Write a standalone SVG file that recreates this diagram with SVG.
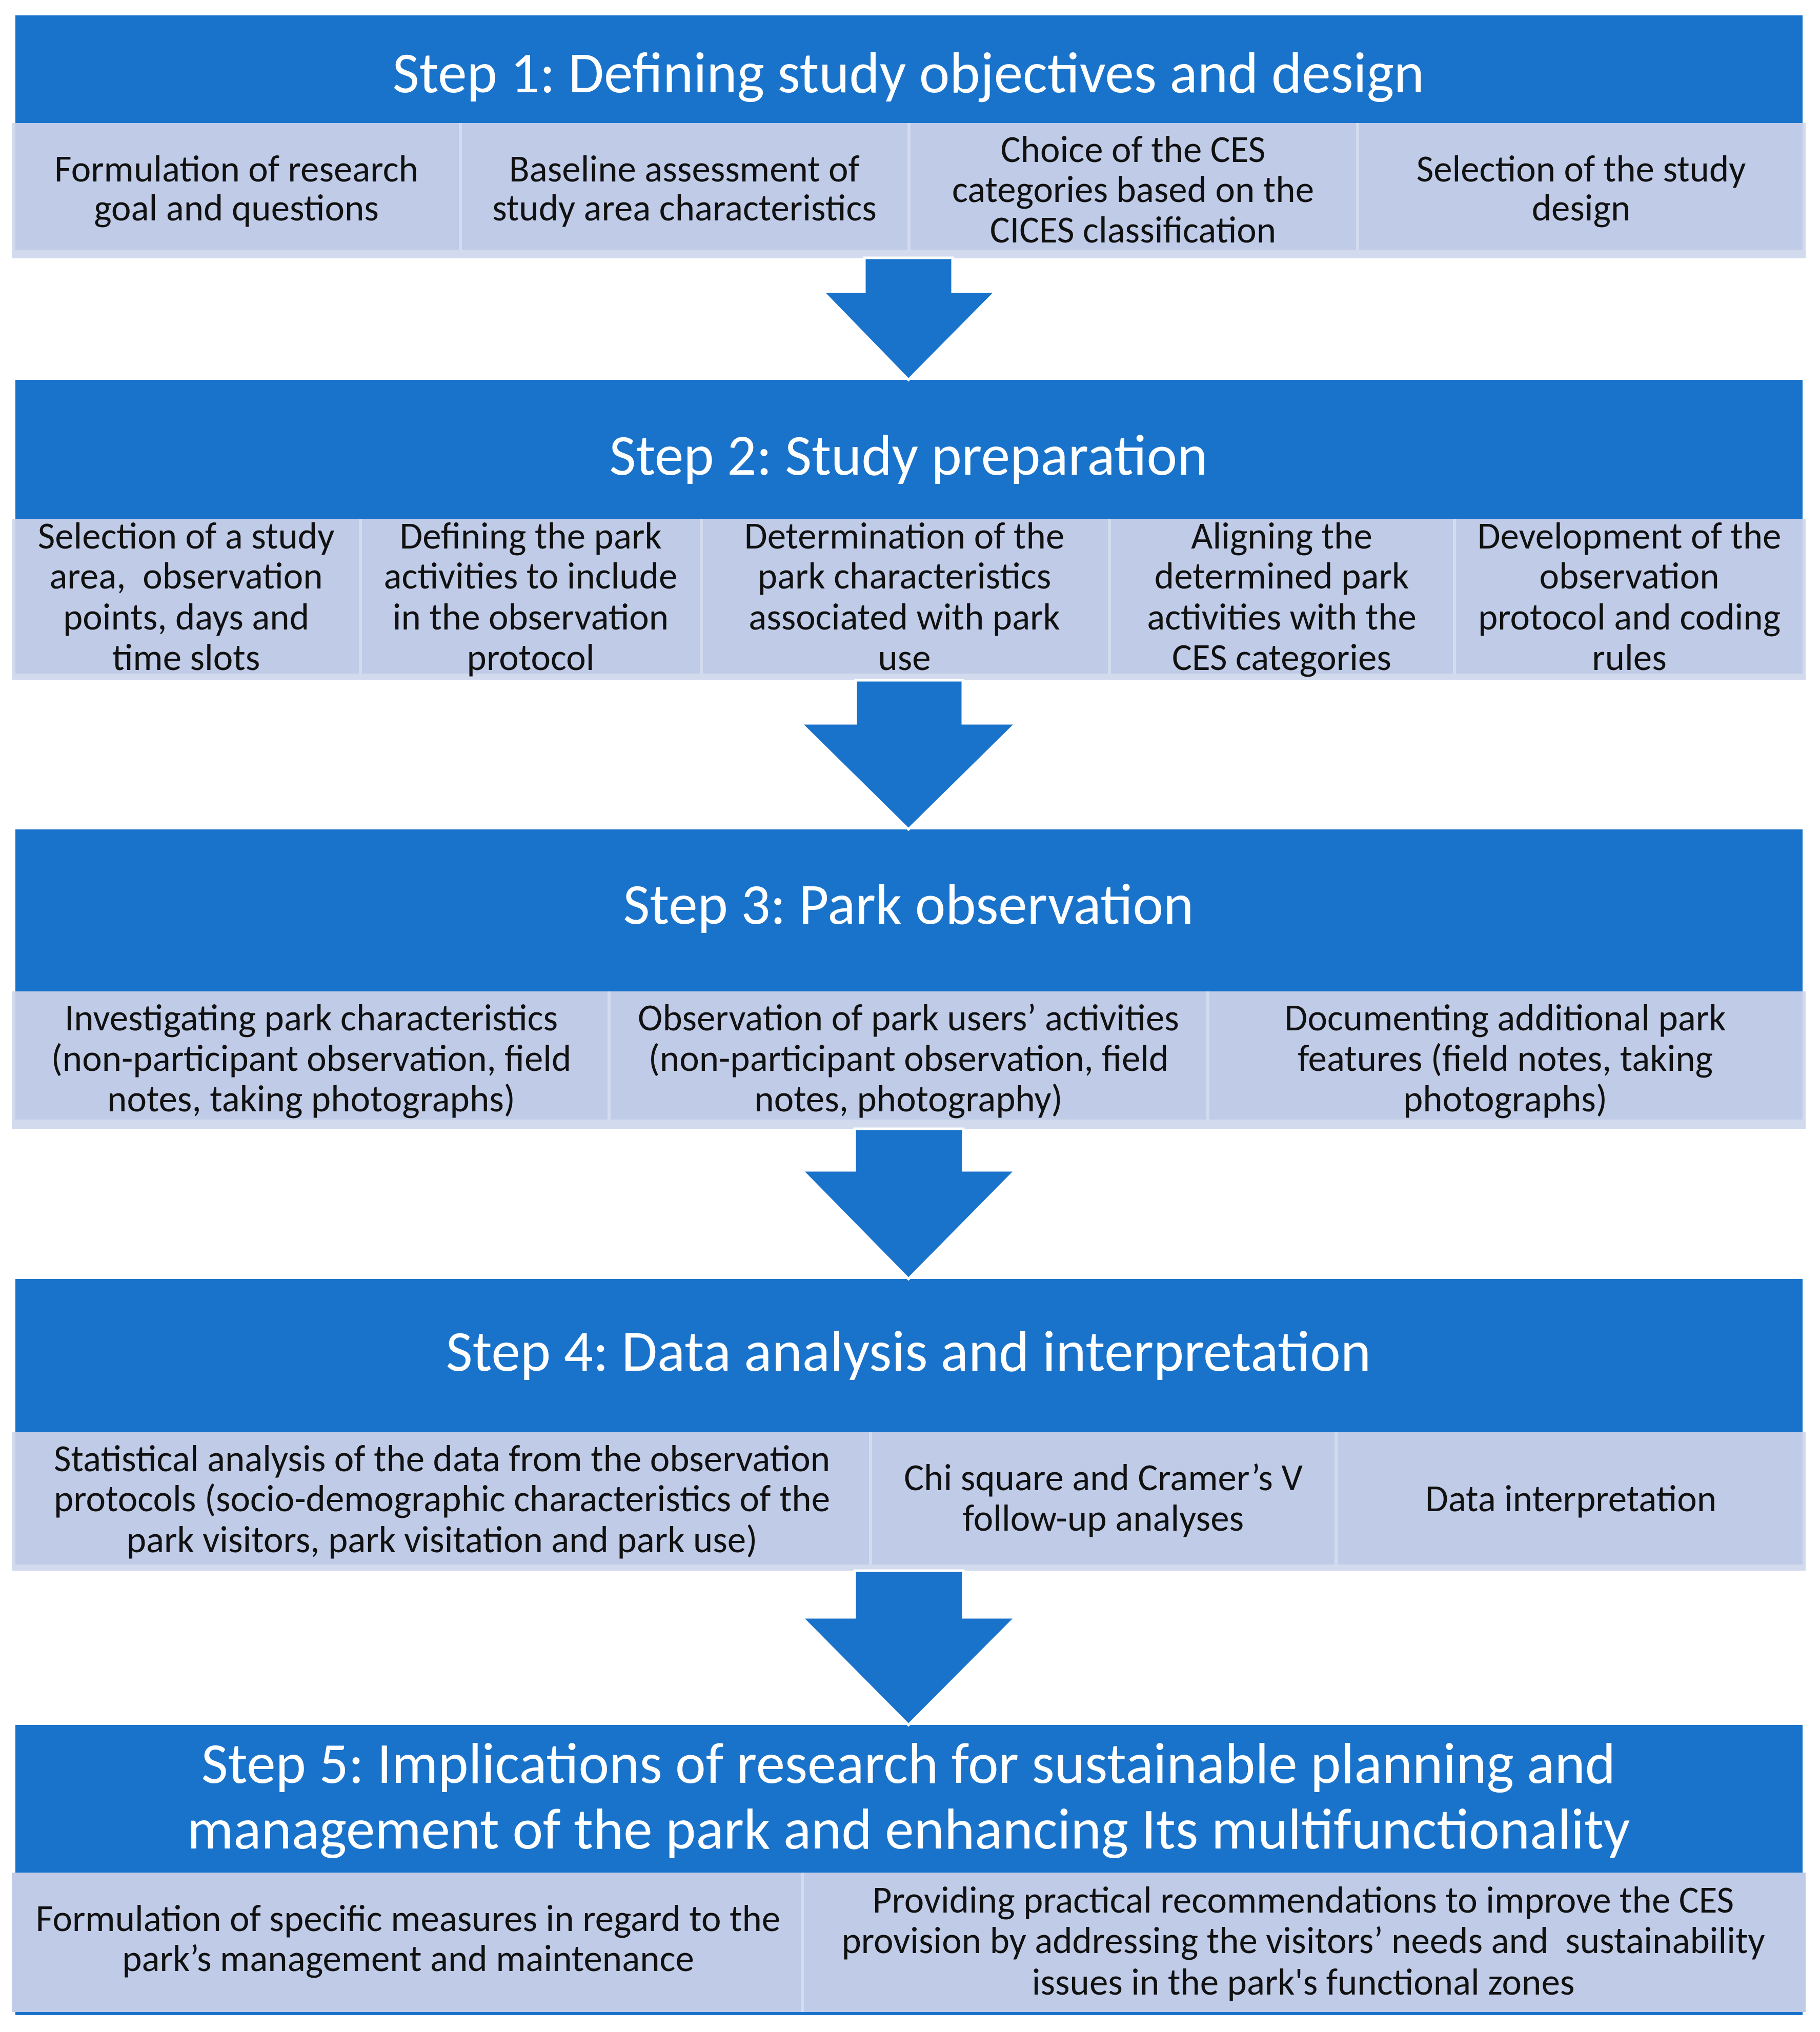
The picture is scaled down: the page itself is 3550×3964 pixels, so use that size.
<svg xmlns="http://www.w3.org/2000/svg" width="3550" height="3964" viewBox="0 0 3550 3964">
<style>
.hdr{fill:#1A73CB}
.rowbg{fill:#D2DAEE}
.cell{fill:#BFCBE7}
.div{stroke:#D3DBEF;stroke-width:6}
.ttl{font-family:Carlito,Lato,"Open Sans",sans-serif;font-size:113px;fill:#FFFFFF;text-anchor:middle}
.txt{font-family:Carlito,Lato,"Open Sans",sans-serif;font-size:73px;fill:#111111;text-anchor:middle}
.arr{fill:#1A73CB;stroke:#FFFFFF;stroke-width:5;stroke-linejoin:miter}
</style>
<rect width="3550" height="3964" fill="#FFFFFF"/>

<!-- Step 1 -->
<g id="step1">
  <rect class="hdr" x="30" y="30" width="3486" height="210"/>
  <text class="ttl" x="1772" y="180">Step 1: Defining study objectives and design</text>
  <rect class="rowbg" x="23" y="240" width="3499" height="264"/>
  <rect class="cell" x="30" y="240" width="3486" height="247"/>
  <line class="div" x1="898" y1="240" x2="898" y2="490"/>
  <line class="div" x1="1773" y1="240" x2="1773" y2="490"/>
  <line class="div" x1="2648" y1="240" x2="2648" y2="490"/>
</g>
<g id="step1-cell1"><text class="txt"><tspan x="461" y="354">Formulation of research</tspan><tspan x="461" y="430">goal and questions</tspan></text></g>
<g id="step1-cell2"><text class="txt"><tspan x="1335" y="354">Baseline assessment of</tspan><tspan x="1335" y="430">study area characteristics</tspan></text></g>
<g id="step1-cell3"><text class="txt"><tspan x="2210" y="316">Choice of the CES</tspan><tspan x="2210" y="394">categories based on the</tspan><tspan x="2210" y="473">CICES classification</tspan></text></g>
<g id="step1-cell4"><text class="txt"><tspan x="3084" y="354">Selection of the study</tspan><tspan x="3084" y="430">design</tspan></text></g>

<!-- Step 2 -->
<g id="step2">
  <rect class="hdr" x="30" y="741" width="3486" height="271"/>
  <text class="ttl" x="1772" y="926">Step 2: Study preparation</text>
  <rect class="rowbg" x="23" y="1012" width="3499" height="314"/>
  <rect class="cell" x="30" y="1012" width="3486" height="302"/>
  <line class="div" x1="703" y1="1012" x2="703" y2="1318"/>
  <line class="div" x1="1368" y1="1012" x2="1368" y2="1318"/>
  <line class="div" x1="2164" y1="1012" x2="2164" y2="1318"/>
  <line class="div" x1="2837" y1="1012" x2="2837" y2="1318"/>
</g>
<g id="step2-cell1"><text class="txt" xml:space="preserve"><tspan x="363" y="1070">Selection of a study</tspan><tspan x="363" y="1148">area,  observation</tspan><tspan x="363" y="1228">points, days and</tspan><tspan x="363" y="1307">time slots</tspan></text></g>
<g id="step2-cell2"><text class="txt"><tspan x="1035" y="1070">Defining the park</tspan><tspan x="1035" y="1148">activities to include</tspan><tspan x="1035" y="1228">in the observation</tspan><tspan x="1035" y="1307">protocol</tspan></text></g>
<g id="step2-cell3"><text class="txt"><tspan x="1764" y="1070">Determination of the</tspan><tspan x="1764" y="1148">park characteristics</tspan><tspan x="1764" y="1228">associated with park</tspan><tspan x="1764" y="1307">use</tspan></text></g>
<g id="step2-cell4"><text class="txt"><tspan x="2500" y="1070">Aligning the</tspan><tspan x="2500" y="1148">determined park</tspan><tspan x="2500" y="1228">activities with the</tspan><tspan x="2500" y="1307">CES categories</tspan></text></g>
<g id="step2-cell5"><text class="txt"><tspan x="3178" y="1070">Development of the</tspan><tspan x="3178" y="1148">observation</tspan><tspan x="3178" y="1228">protocol and coding</tspan><tspan x="3178" y="1307">rules</tspan></text></g>

<!-- Step 3 -->
<g id="step3">
  <rect class="hdr" x="30" y="1618" width="3486" height="316"/>
  <text class="ttl" x="1772" y="1802">Step 3: Park observation</text>
  <rect class="rowbg" x="23" y="1934" width="3499" height="268"/>
  <rect class="cell" x="30" y="1934" width="3486" height="250"/>
  <line class="div" x1="1188" y1="1934" x2="1188" y2="2190"/>
  <line class="div" x1="2356" y1="1934" x2="2356" y2="2190"/>
</g>
<g id="step3-cell1"><text class="txt"><tspan x="607" y="2010">Investigating park characteristics</tspan><tspan x="607" y="2089">(non-participant observation, field</tspan><tspan x="607" y="2168">notes, taking photographs)</tspan></text></g>
<g id="step3-cell2"><text class="txt"><tspan x="1772" y="2010">Observation of park users’ activities</tspan><tspan x="1772" y="2089">(non-participant observation, field</tspan><tspan x="1772" y="2168">notes, photography)</tspan></text></g>
<g id="step3-cell3"><text class="txt"><tspan x="2936" y="2010">Documenting additional park</tspan><tspan x="2936" y="2089">features (field notes, taking</tspan><tspan x="2936" y="2168">photographs)</tspan></text></g>

<!-- Step 4 -->
<g id="step4">
  <rect class="hdr" x="30" y="2495" width="3486" height="299"/>
  <text class="ttl" x="1772" y="2674">Step 4: Data analysis and interpretation</text>
  <rect class="rowbg" x="23" y="2794" width="3499" height="270"/>
  <rect class="cell" x="30" y="2794" width="3486" height="258"/>
  <line class="div" x1="1698" y1="2794" x2="1698" y2="3056"/>
  <line class="div" x1="2606" y1="2794" x2="2606" y2="3056"/>
</g>
<g id="step4-cell1"><text class="txt"><tspan x="862" y="2870">Statistical analysis of the data from the observation</tspan><tspan x="862" y="2948">protocols (socio-demographic characteristics of the</tspan><tspan x="862" y="3028">park visitors, park visitation and park use)</tspan></text></g>
<g id="step4-cell2"><text class="txt"><tspan x="2152" y="2907">Chi square and Cramer’s V</tspan><tspan x="2152" y="2986">follow-up analyses</tspan></text></g>
<g id="step4-cell3"><text class="txt"><tspan x="3064" y="2948">Data interpretation</tspan></text></g>

<!-- Step 5 -->
<g id="step5">
  <rect class="hdr" x="30" y="3365" width="3486" height="288"/>
  <text class="ttl"><tspan x="1772" y="3478">Step 5: Implications of research for sustainable planning and</tspan><tspan x="1772" y="3606">management of the park and enhancing Its multifunctionality</tspan></text>
  <rect class="cell" x="23" y="3653" width="3499" height="272"/>
  <line class="div" x1="1565" y1="3653" x2="1565" y2="3925"/>
  <rect class="hdr" x="30" y="3925" width="3486" height="6"/>
</g>
<g id="step5-cell1"><text class="txt"><tspan x="796" y="3767">Formulation of specific measures in regard to the</tspan><tspan x="796" y="3845">park’s management and maintenance</tspan></text></g>
<g id="step5-cell2"><text class="txt" xml:space="preserve"><tspan x="2542" y="3731">Providing practical recommendations to improve the CES</tspan><tspan x="2542" y="3810">provision by addressing the visitors’ needs and  sustainability</tspan><tspan x="2542" y="3891">issues in the park's functional zones</tspan></text></g>

<!-- Connectors -->
<g id="connectors">
  <polygon class="arr" points="1686,503 1858,503 1858,569 1942,569 1772,741 1605,569 1686,569"/>
  <polygon class="arr" points="1669,1327 1878,1327 1878,1411 1982,1411 1772,1618 1562,1411 1669,1411"/>
  <polygon class="arr" points="1667,2202 1879,2202 1879,2283 1981,2283 1772,2495 1564,2283 1667,2283"/>
  <polygon class="arr" points="1667,3064 1879,3064 1879,3155 1981,3155 1772,3365 1564,3155 1667,3155"/>
</g>
</svg>
